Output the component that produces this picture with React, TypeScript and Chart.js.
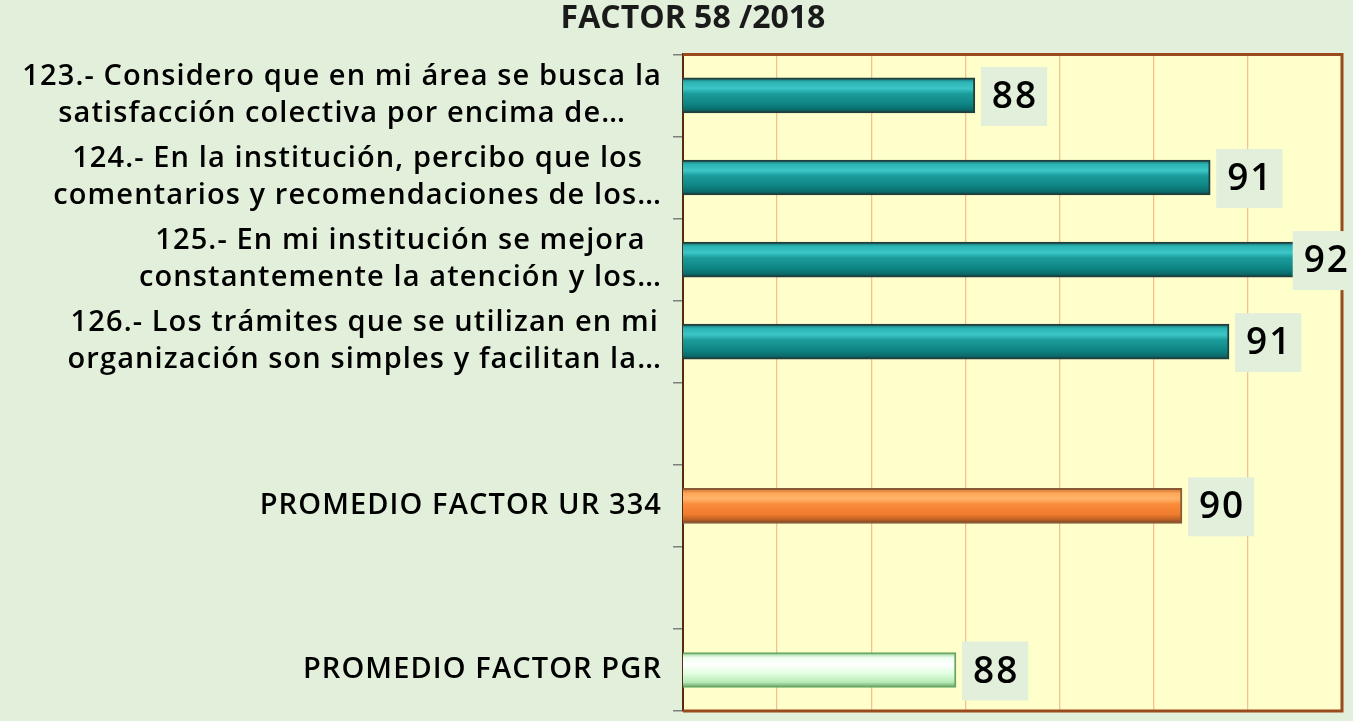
import React, { useEffect, useRef } from 'react';
import { Chart, registerables } from 'chart.js';

Chart.register(...registerables);

const chartTitle = 'FACTOR 58 /2018';

const categories: string[][] = [
  ['123.- Considero que en mi área se busca la', 'satisfacción colectiva por encima de…'],
  ['124.- En la institución, percibo que los', 'comentarios y recomendaciones de los…'],
  ['125.- En mi institución se mejora', 'constantemente la atención y los…'],
  ['126.- Los trámites que se utilizan en mi', 'organización son simples y facilitan la…'],
  [''],
  ['PROMEDIO FACTOR UR 334'],
  [''],
  ['PROMEDIO FACTOR PGR'],
];

const values: (number | null)[] = [88.1, 90.6, 92.0, 90.8, null, 90.3, null, 87.9];
const valueLabels: string[] = ['88', '91', '92', '91', '', '90', '', '88'];
const barKinds: string[] = ['teal', 'teal', 'teal', 'teal', 'teal', 'orange', 'teal', 'pgr'];

const xMin = 85;
const xMax = 92;
const xStep = 1;

const BG = '#e2efda';
const PLOT_BG = '#ffffcc';
const FONT = '"Open Sans"';

const palettes: Record<string, { stops: [number, string][]; border: string }> = {
  teal: {
    stops: [
      [0, '#136a6a'],
      [0.12, '#2cb3b3'],
      [0.3, '#3cc6c6'],
      [0.45, '#1c9c9c'],
      [0.75, '#0e8484'],
      [0.9, '#0b6c6c'],
      [1, '#0a4646'],
    ],
    border: '#223f3f',
  },
  orange: {
    stops: [
      [0, '#c86a2a'],
      [0.15, '#ffa858'],
      [0.3, '#ffb46a'],
      [0.45, '#fb8c3c'],
      [0.75, '#f07b2c'],
      [0.9, '#b85e25'],
      [1, '#7a4020'],
    ],
    border: '#8a5a36',
  },
  pgr: {
    stops: [
      [0, '#8fd08f'],
      [0.15, '#f0fff0'],
      [0.35, '#ffffff'],
      [0.6, '#e0ffe0'],
      [0.85, '#b8eab8'],
      [1, '#5f9a5f'],
    ],
    border: '#66a866',
  },
};

const BAR_THICKNESS = 35;

const plotPlugin = {
  id: 'plotDecor',
  beforeDraw(chart: any) {
    const { ctx, chartArea: a } = chart;
    ctx.save();
    ctx.fillStyle = PLOT_BG;
    ctx.fillRect(a.left, a.top, a.right - a.left, a.bottom - a.top);
    ctx.restore();
  },
  afterDraw(chart: any) {
    const { ctx, chartArea: a } = chart;
    const yScale = chart.scales.y;
    ctx.save();
    ctx.strokeStyle = '#9a4a1c';
    ctx.lineWidth = 3;
    ctx.beginPath();
    ctx.moveTo(a.left, a.top);
    ctx.lineTo(a.right, a.top);
    ctx.lineTo(a.right, a.bottom);
    ctx.lineTo(a.left, a.bottom);
    ctx.stroke();
    ctx.restore();

    ctx.save();
    ctx.font = `600 29px ${FONT}`;
    (ctx as any).letterSpacing = '1.1px';
    ctx.fillStyle = '#000000';
    ctx.textBaseline = 'middle';
    ctx.textAlign = 'center';
    const lh = 37;
    const rightEdge = a.left - 21;
    categories.forEach((lines, i) => {
      const cy = yScale.getPixelForValue(i);
      const widths = lines.map((l) => ctx.measureText(l).width);
      const bw = Math.max(...widths);
      const cx = rightEdge - bw / 2;
      lines.forEach((l, j) => {
        const y = cy + (j - (lines.length - 1) / 2) * lh;
        ctx.fillText(l, cx, y);
      });
    });
    ctx.restore();

    const meta = chart.getDatasetMeta(0);
    ctx.save();
    ctx.font = `600 37px ${FONT}`;
    (ctx as any).letterSpacing = '2px';
    ctx.textBaseline = 'middle';
    ctx.textAlign = 'left';
    meta.data.forEach((el: any, i: number) => {
      const txt = valueLabels[i];
      if (!txt || values[i] == null) return;
      const tw = ctx.measureText(txt).width - 2;
      const bw = tw + 22;
      const bh = 59;
      let left = el.x + 6;
      const maxLeft = chart.width + 6 - bw;
      if (left > maxLeft) left = maxLeft;
      const top = el.y + 1 - bh / 2;
      ctx.fillStyle = BG;
      ctx.fillRect(left, top, bw, bh);
      ctx.fillStyle = '#000000';
      ctx.fillText(txt, left + 11, el.y + 2);
    });
    ctx.restore();
  },
};

export default function App() {
  const canvasRef = useRef<HTMLCanvasElement | null>(null);

  useEffect(() => {
    if (!canvasRef.current) return;
    const chart = new Chart(canvasRef.current, {
      type: 'bar',
      data: {
        labels: categories,
        datasets: [
          {
            data: values,
            barThickness: BAR_THICKNESS,
            borderWidth: 2,
            borderSkipped: false,
            borderColor: barKinds.map((k) => palettes[k].border),
            backgroundColor: (c: any) => {
              const kind = barKinds[c.dataIndex] || 'teal';
              const p = palettes[kind];
              const chart = c.chart;
              if (!chart.chartArea || !chart.scales || !chart.scales.y || c.dataIndex == null) {
                return p.stops[2][1];
              }
              const cy = chart.scales.y.getPixelForValue(c.dataIndex);
              const top = cy - BAR_THICKNESS / 2;
              const g = chart.ctx.createLinearGradient(0, top, 0, top + BAR_THICKNESS);
              p.stops.forEach(([o, col]) => g.addColorStop(o, col));
              return g;
            },
          },
        ],
      },
      options: {
        indexAxis: 'y',
        animation: false,
        responsive: true,
        maintainAspectRatio: false,
        layout: { padding: { left: 44, right: 11, top: 0, bottom: 10 } },
        plugins: {
          legend: { display: false },
          tooltip: { enabled: false },
          title: {
            display: true,
            text: chartTitle,
            color: '#1a1a1a',
            font: { family: 'Open Sans', size: 32, weight: 'bold' },
            padding: { top: 0, bottom: 16 },
          },
        },
        scales: {
          x: {
            type: 'linear',
            min: xMin,
            max: xMax,
            ticks: { display: false, stepSize: xStep },
            grid: { color: '#f7c08c', lineWidth: 1.3, drawTicks: false },
            border: { display: false },
          },
          y: {
            type: 'category',
            offset: true,
            ticks: { display: false },
            grid: {
              offset: true,
              drawOnChartArea: false,
              drawTicks: true,
              tickLength: 10,
              color: '#7f7f7f',
              lineWidth: 1.5,
            },
            border: { display: true, color: '#5a2a0e', width: 2 },
            afterFit(scale: any) {
              scale.width = 639;
            },
          },
        },
      },
      plugins: [plotPlugin],
    });
    return () => chart.destroy();
  }, []);

  return (
    <div
      style={{
        position: 'fixed',
        left: 0,
        top: 0,
        width: 1353,
        height: 721,
        background: BG,
      }}
    >
      <canvas ref={canvasRef} />
    </div>
  );
}
